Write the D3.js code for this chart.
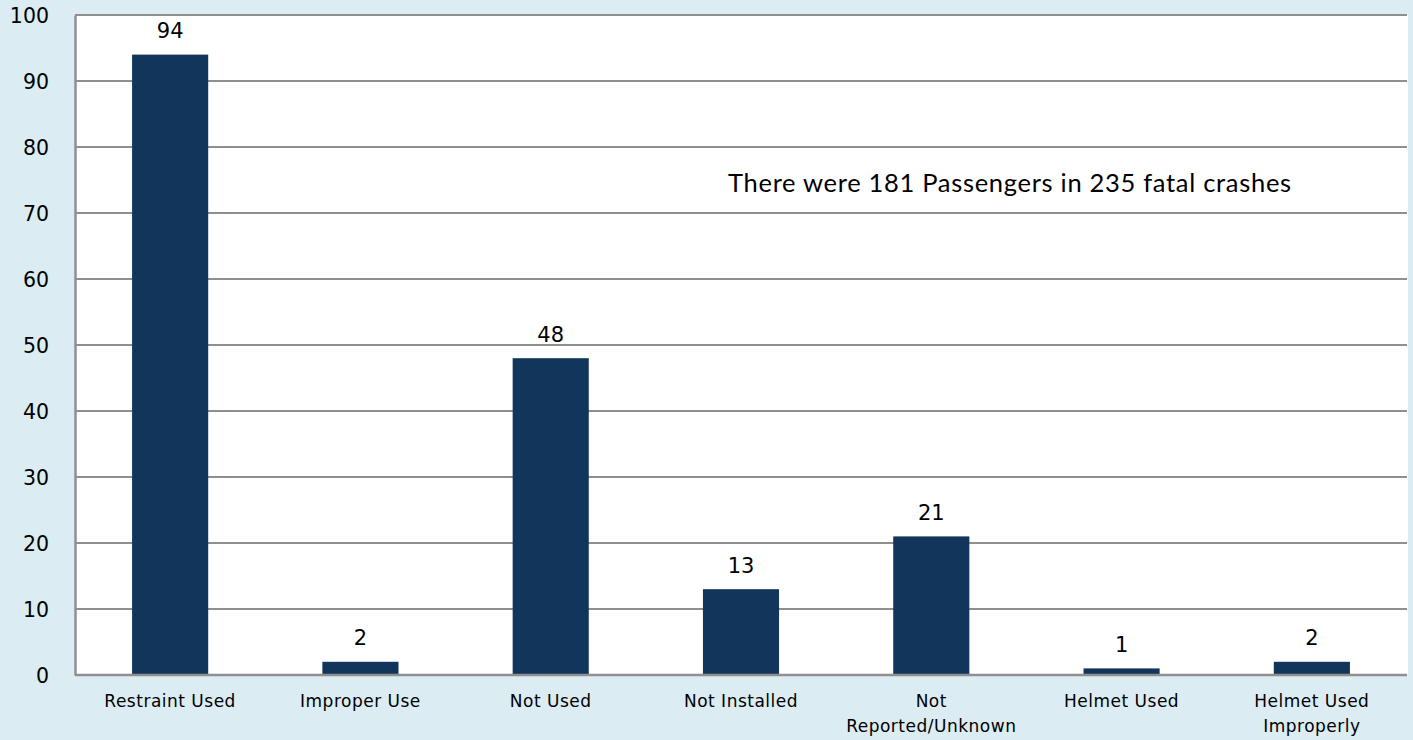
<!DOCTYPE html>
<html><head><meta charset="utf-8">
<script src="https://cdn.jsdelivr.net/npm/d3@7"></script>
<style>
html,body{margin:0;padding:0;background:#dbecf3;}
svg{display:block;}
</style></head>
<body>
<script>
const categories = [["Restraint Used"],["Improper Use"],["Not Used"],["Not Installed"],["Not","Reported/Unknown"],["Helmet Used"],["Helmet Used","Improperly"]];
const values = [94, 2, 48, 13, 21, 1, 2];
const yTicks = [0,10,20,30,40,50,60,70,80,90,100];
const annotation = "There were 181 Passengers in 235 fatal crashes";

const W = 1413, H = 740;
const m = {left:75, right:6, top:15, bottom:65};
const svg = d3.select("body").append("svg").attr("width",W).attr("height",H);
svg.append("rect").attr("width",W).attr("height",H).attr("fill","#dbecf3");

const x = d3.scaleBand().domain(d3.range(categories.length)).range([m.left, W-m.right]).paddingInner(0.6).paddingOuter(0.3);
const y = d3.scaleLinear().domain([0,100]).range([H-m.bottom, m.top]);

svg.append("rect").attr("x",m.left).attr("y",m.top).attr("width",W-m.right-m.left+1).attr("height",H-m.bottom-m.top).attr("fill","#fff");

// gridlines
svg.append("g").selectAll("line").data(yTicks).join("line")
  .attr("x1",m.left).attr("x2",W-m.right).attr("y1",d=>y(d)).attr("y2",d=>y(d))
  .attr("stroke","#8f8f8f").attr("stroke-width",2);

// y axis
const ya = svg.append("g").attr("transform",`translate(${m.left},0)`).call(d3.axisLeft(y).tickValues(yTicks).tickSize(0).tickPadding(26));
ya.select(".domain").attr("stroke","#8f8f8f").attr("stroke-width",2.5);
ya.selectAll("text").attr("font-family","'DejaVu Sans', sans-serif").attr("font-size",20.5).attr("fill","#000").attr("dy","0.36em");

// bars
svg.append("g").selectAll("rect").data(values).join("rect")
  .attr("x",(d,i)=>x(i)).attr("width",x.bandwidth())
  .attr("y",d=>y(d)).attr("height",d=>y(0)-y(d)).attr("fill","#12355b");

// value labels
svg.append("g").selectAll("text").data(values).join("text")
  .attr("x",(d,i)=>x(i)+x.bandwidth()/2).attr("y",d=>y(d)-16.5)
  .attr("text-anchor","middle").attr("font-family","'DejaVu Sans', sans-serif").attr("font-size",21).attr("fill","#000")
  .text(d=>d);

// x axis line
svg.append("line").attr("x1",m.left).attr("x2",W-m.right).attr("y1",y(0)).attr("y2",y(0)).attr("stroke","#8f8f8f").attr("stroke-width",2.5);

// category labels
const xl = svg.append("g").selectAll("text").data(categories).join("text")
  .attr("text-anchor","middle").attr("font-family","'DejaVu Sans', sans-serif").attr("font-size",17).attr("letter-spacing",0.5).attr("fill","#000")
  .attr("transform",(d,i)=>`translate(${x(i)+x.bandwidth()/2},707)`);
xl.selectAll("tspan").data(d=>d).join("tspan").attr("x",0).attr("dy",(d,j)=>j?25:0).text(d=>d);

// annotation
svg.append("text").attr("x",728).attr("y",192).attr("text-anchor","start")
  .attr("font-family","Lato, sans-serif").attr("font-size",25.5).attr("letter-spacing",0.7).attr("fill","#000").text(annotation);
</script>
</body></html>
